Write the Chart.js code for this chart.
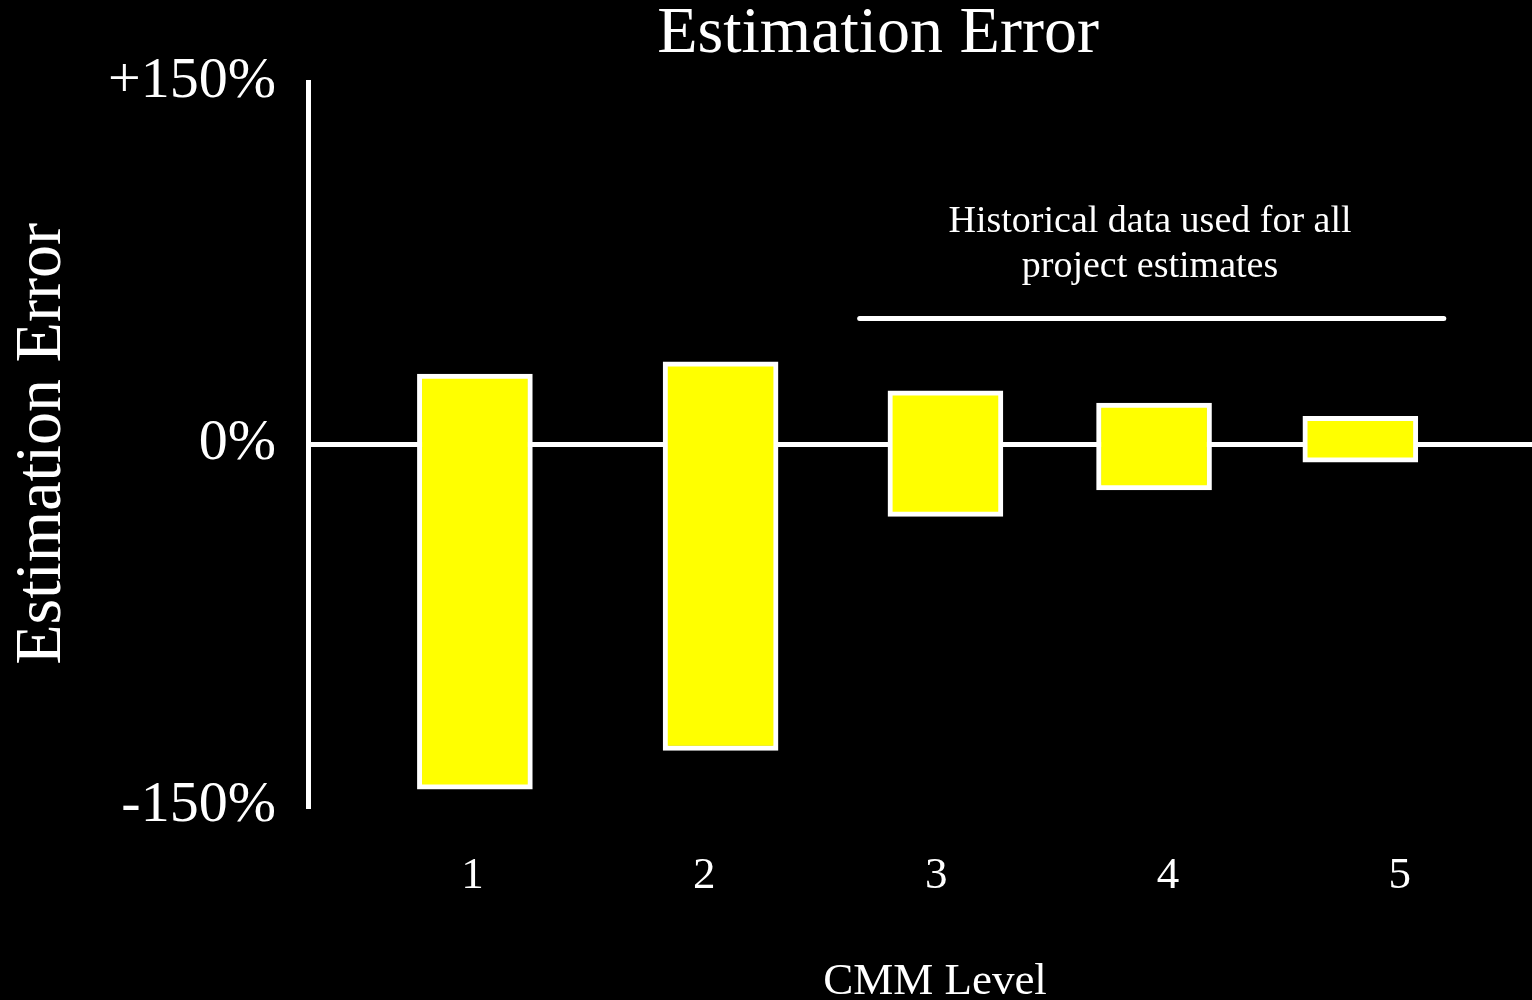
<!DOCTYPE html>
<html>
<head>
<meta charset="utf-8">
<script src="https://cdn.jsdelivr.net/npm/chart.js@4.4.1/dist/chart.umd.min.js"></script>
<style>
  html, body { margin: 0; padding: 0; background: #000; overflow: hidden; }
  /* a bit wider than the window so the zero line runs off the right edge */
  #wrap { width: 1562px; height: 1000px; }
</style>
</head>
<body>
<div id="wrap"><canvas id="errorChart"></canvas></div>
<script>
// CMM levels and where each level's bar sits on the axis
const levels = [1, 2, 3, 4, 5];
const barPositions = [1.01, 2.07, 3.04, 3.94, 4.83];
// error range per level, in percent (low, high)
const errorLow = [-143, -127, -30, -19, -7.5];
const errorHigh = [29, 34, 22, 17, 11.5];
// y axis ticks
const yTicks = [-150, 0, 150];
// bracket line over levels 3-5
const bracketX = [2.67, 5.19];
const bracketY = 52;

const serif = "'Liberation Serif', 'Times New Roman', serif";

const barData = barPositions.map((x, i) => ({ x: x, y: [errorLow[i], errorHigh[i]] }));
const bracketData = bracketX.map(x => ({ x: x, y: bracketY }));

// title and bracket caption
const textPlugin = {
    id: 'slideText',
    afterDraw(chart) {
        const ctx = chart.ctx;
        ctx.save();
        ctx.fillStyle = '#fff';
        ctx.textAlign = 'center';
        ctx.textBaseline = 'middle';
        ctx.font = '66px ' + serif;
        ctx.fillText('Estimation Error', 878, 35);
        ctx.textBaseline = 'alphabetic';
        ctx.font = '38px ' + serif;
        ctx.fillText('Historical data used for all', 1150, 232);
        ctx.fillText('project estimates', 1150, 277);
        ctx.restore();
    }
};

const ctx = document.getElementById('errorChart').getContext('2d');
new Chart(ctx, {
    type: 'bar',
    data: {
        datasets: [
            {
                type: 'bar',
                data: barData,
                backgroundColor: '#ffff00',
                borderColor: '#ffffff',
                borderWidth: 5,
                borderSkipped: false,
                barThickness: 115
            },
            {
                type: 'line',
                data: bracketData,
                borderColor: '#ffffff',
                borderWidth: 5,
                borderCapStyle: 'round',
                pointRadius: 0,
                fill: false
            }
        ]
    },
    options: {
        responsive: true,
        maintainAspectRatio: false,
        animation: false,
        layout: {
            padding: { top: 82, right: 0, bottom: 0, left: 0 }
        },
        plugins: {
            legend: { display: false },
            tooltip: { enabled: false },
            title: { display: false }
        },
        scales: {
            x: {
                type: 'linear',
                min: 0.29,
                max: 5.7,
                offset: false,
                afterBuildTicks: function (scale) {
                    scale.ticks = levels.map(v => ({ value: v }));
                },
                afterFit: function (scale) {
                    scale.height = 194;
                },
                ticks: {
                    color: '#fff',
                    padding: 35,
                    maxRotation: 0,
                    font: { family: serif, size: 45 },
                    callback: function (value) {
                        return String(value);
                    }
                },
                grid: { display: false },
                border: { display: false },
                title: {
                    display: true,
                    text: 'CMM Level',
                    color: '#fff',
                    font: { family: serif, size: 45, lineHeight: 0.8 },
                    padding: { top: 0, bottom: 0 }
                }
            },
            y: {
                type: 'linear',
                min: -150,
                max: 150,
                afterBuildTicks: function (scale) {
                    scale.ticks = yTicks.map(v => ({ value: v }));
                },
                afterFit: function (scale) {
                    scale.width = 308;
                },
                ticks: {
                    color: '#fff',
                    padding: 32,
                    font: { family: serif, size: 58 },
                    callback: function (value) {
                        return (value > 0 ? '+' : '') + value + '%';
                    }
                },
                grid: {
                    drawTicks: false,
                    lineWidth: 5,
                    color: function (context) {
                        return context.tick && context.tick.value === 0 ? '#ffffff' : 'rgba(0,0,0,0)';
                    }
                },
                border: { display: true, color: '#ffffff', width: 5 },
                title: {
                    display: true,
                    text: 'Estimation Error',
                    color: '#fff',
                    font: { family: serif, size: 66 },
                    padding: { top: 3, bottom: 0 }
                }
            }
        }
    },
    plugins: [textPlugin]
});
</script>
</body>
</html>
